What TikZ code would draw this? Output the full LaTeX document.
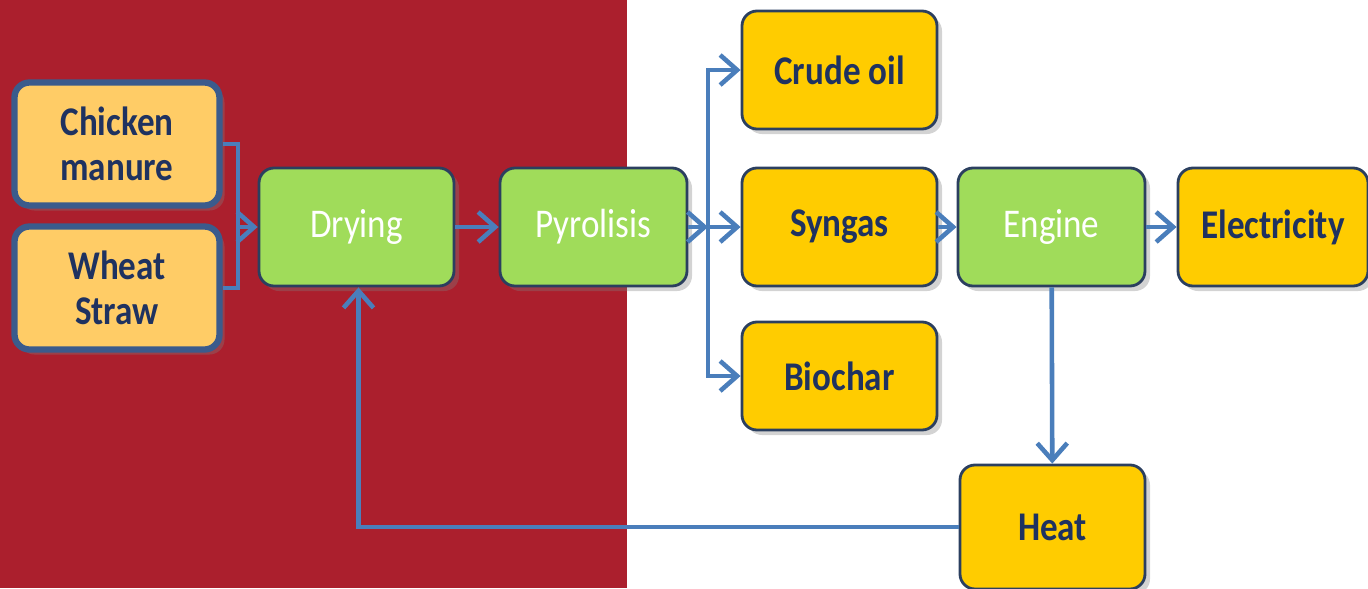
\documentclass[tikz,border=0pt]{standalone}
\usepackage{fontspec}
\setmainfont{Carlito}[FakeStretch=0.86]
\usepackage{xcolor}
\usepackage{tikz}
\usetikzlibrary{arrows.meta, shadows, positioning, calc}
\definecolor{bgred}{HTML}{AB1F2D}
\definecolor{flowblue}{HTML}{4A7EBB}
\definecolor{feedfill}{HTML}{FFCC66}
\definecolor{feedline}{HTML}{3B5B8C}
\definecolor{prodfill}{HTML}{FFCC00}
\definecolor{procfill}{HTML}{A0DC5A}
\definecolor{boxline}{HTML}{2B3F5F}
\definecolor{navytext}{HTML}{1F3260}

\tikzset{
  box/.style={rounded corners=0.15cm, align=center, inner sep=0pt,
    font=\fontsize{11.6}{12.8}\selectfont,
    drop shadow={opacity=0.35, shadow xshift=0.05cm, shadow yshift=-0.05cm}},
  feed/.style={box, fill=feedfill, draw=feedline, line width=1.8pt,
    text=navytext, font=\fontsize{11.6}{12.8}\selectfont\bfseries,
    minimum width=2.05cm, minimum height=1.23cm},
  proc/.style={box, fill=procfill, draw=boxline, line width=0.8pt,
    text=white, minimum width=1.87cm, minimum height=1.18cm},
  prod/.style={box, fill=prodfill, draw=boxline, line width=0.8pt,
    text=navytext, font=\fontsize{11.6}{12.8}\selectfont\bfseries,
    minimum width=1.95cm, minimum height=1.18cm},
  flow/.style={draw=flowblue, line width=1.3pt,
    -{Straight Barb[length=1.7mm, width=3mm]}},
  link/.style={draw=flowblue, line width=1.3pt}
}

\begin{document}
\begin{tikzpicture}
      \useasboundingbox (0,0) rectangle (13.68,5.88);
      \fill [bgred] (0,0) rectangle (6.27,5.88);

      \node [feed] (chick) at (1.17, 4.44) {Chicken\\manure};
      \node [feed] (wheat) at (1.17, 3.00) {Wheat\\Straw};

      \node [proc, minimum width=1.95cm] (dry) at (3.565, 3.61) {Drying};
      \node [proc] (pyro) at (5.935, 3.61) {Pyrolisis};

      \node [prod] (crude) at (8.395, 5.18) {Crude oil};
      \node [prod] (syn) at (8.395, 3.61) {Syngas};
      \node [prod, minimum height=1.08cm] (bio) at (8.395, 2.12) {Biochar};

      \node [proc] (eng) at (10.515, 3.61) {Engine};
      \node [prod, minimum width=1.9cm] (elec) at (12.73, 3.61) {Electricity};
      \node [prod, minimum width=1.85cm, minimum height=1.24cm] (heat) at (10.525, 0.61) {Heat};

      \coordinate (join) at (2.38, 3.61);
      \coordinate (split) at (7.08, 3.61);

      \draw [link] (chick.east) -| (join) |- (wheat.east);
      \draw [flow] (join) -- (dry);
      \draw [flow] (dry) -- (pyro);
      \draw [flow] (pyro) -- (split);
      \draw [flow] (split) |- (crude);
      \draw [flow] (split) -- (syn);
      \draw [flow] (split) |- (bio);
      \draw [flow] (syn) -- (eng);
      \draw [flow] (eng) -- (elec);
      \draw [flow] (eng) -- (heat);
      \draw [flow] (heat.west) -| ([xshift=0.02cm]dry.south);
    \end{tikzpicture}
\end{document}
